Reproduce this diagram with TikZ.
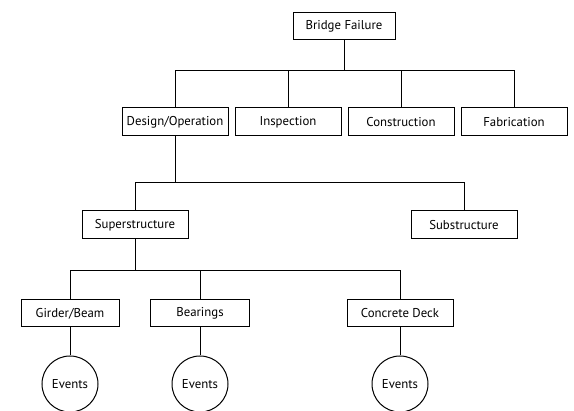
\documentclass[tikz,border=0pt]{standalone}
\usepackage{fontspec}
\setmainfont{PT Sans}
\usetikzlibrary{positioning}

\begin{document}
\begin{tikzpicture}[
      x=1pt, y=1pt,
      node distance=6pt, % gap between the boxes of one row
      box/.style={
        rectangle,
        draw,
        line width=1pt,
        align=center,
        minimum width=106pt,
        minimum height=28pt,
        inner sep=2pt,
        font=\fontsize{12.8}{14}\selectfont
      },
      event/.style={
        circle,
        draw,
        line width=1pt,
        minimum size=56pt,
        inner sep=0pt,
        font=\fontsize{12.8}{14}\selectfont
      },
      link/.style={line width=1pt}
    ]
    \useasboundingbox (0,0) rectangle (574,411);
    \node[box, minimum width=102pt, minimum height=27pt] (root) at (344,385) {Bridge Failure};
    \node[box] (design) at (175,289) {Design/Operation};
    \node[box, right=of design] (inspect) {Inspection};
    \node[box, right=of inspect] (construct) {Construction};
    \node[box, right=of construct] (fabric) {Fabrication};
    \node[box] (super) at (135,186) {Superstructure};
    \node[box] (sub) at (464,186) {Substructure};
    \node[box, minimum width=98pt, minimum height=27pt] (girder) at (70,97.5) {Girder/Beam};
    \node[box, minimum width=99pt, minimum height=27pt] (bearing) at (200,97.5) {Bearings};
    \node[box, minimum height=27pt] (deck) at (400,97.5) {Concrete Deck};
    \node[event] (evgirder) at (70,27) {Events};
    \node[event] (evbearing) at (200,27) {Events};
    \node[event] (evdeck) at (400,27) {Events};
    \coordinate (bar1) at (344,340);
    \coordinate (bar2) at (175,228);
    \coordinate (bar3) at (135,140);
    \draw[link] (root.south) -- (bar1) -| (design.north);
    \draw[link] (bar1) -| (inspect.north);
    \draw[link] (bar1) -| (construct.north);
    \draw[link] (bar1) -| (fabric.north);
    \draw[link] (design.south) -- (bar2) -| (super.north);
    \draw[link] (bar2) -| (sub.north);
    \draw[link] (super.south) -- (bar3) -| (girder.north);
    \draw[link] (bar3) -| (bearing.north);
    \draw[link] (bar3) -| (deck.north);
    \draw[link] (girder) -- (evgirder);
    \draw[link] (bearing) -- (evbearing);
    \draw[link] (deck) -- (evdeck);
  \end{tikzpicture}
\end{document}
